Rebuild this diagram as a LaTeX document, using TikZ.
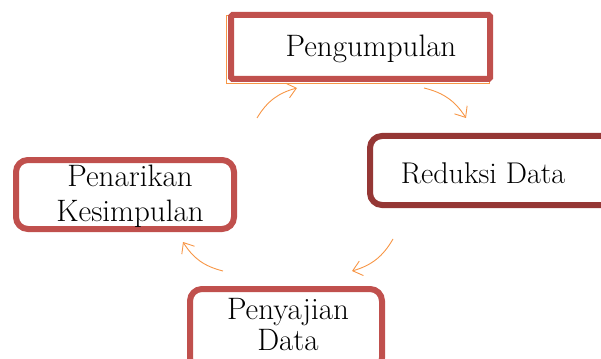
\documentclass[tikz,border=0pt]{standalone}
\usetikzlibrary{arrows.meta}
\definecolor{boxred}{HTML}{C0504D}
\definecolor{darkred}{HTML}{953735}
\definecolor{arroworange}{HTML}{F79646}
\begin{document}
\begin{tikzpicture}[x=1pt,y=-1pt,
  box/.style={draw=boxred,line width=6pt,fill=white},
  lbl/.style={font=\fontsize{31}{35}\selectfont,align=center,text=black,inner sep=0pt},
  cyc/.style={draw=arroworange,line width=0.9pt,-{Straight Barb[length=9pt,width=15pt]},bend left=22}]
\useasboundingbox (0,0) rectangle (601,358);
\begin{scope}
\clip (0,0) rectangle (601,358);
% top box
\draw[arroworange,line width=1pt] (226,16) rectangle (489,84);
\draw[box,rounded corners=1.5pt] (231,15) rectangle (490,79);
\node[lbl,anchor=base] (peng) at (371,57) {Pengumpulan};
% right box
\draw[box,draw=darkred,rounded corners=12pt] (370,136) rectangle (615,205);
\node[lbl,anchor=base,font=\fontsize{30}{35}\selectfont] (red) at (483,183) {Reduksi Data};
% left box
\draw[box,rounded corners=12pt] (16,160) rectangle (234,229);
\node[lbl] (pen) at (130,196) {Penarikan\\Kesimpulan};
% bottom box
\draw[box,rounded corners=12pt] (190,289) rectangle (382,370);
\node[lbl,font=\fontsize{31}{31}\selectfont] (pen2) at (288,325) {Penyajian\\Data};
\end{scope}
\coordinate (a1s) at (257,118); \coordinate (a1e) at (297,88);
\coordinate (a2s) at (424,88);  \coordinate (a2e) at (466,118);
\coordinate (a3s) at (393,239); \coordinate (a3e) at (352,271);
\coordinate (a4s) at (223,271); \coordinate (a4e) at (183,242);
\draw[cyc] (a1s) to (a1e);
\draw[cyc] (a2s) to (a2e);
\draw[cyc] (a3s) to (a3e);
\draw[cyc] (a4s) to (a4e);
\end{tikzpicture}
\end{document}
